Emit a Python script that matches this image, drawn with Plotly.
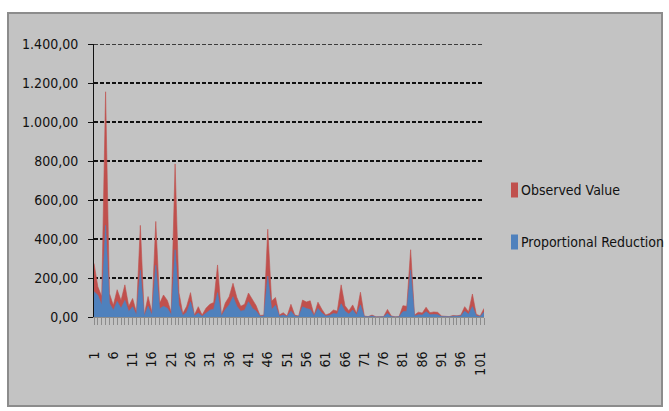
import plotly.graph_objects as go

# Category index along the x axis (1..102)
categories = list(range(1, 103))

observed_value = [
    275, 155, 105, 1155, 120, 60, 140, 85, 165, 55,
    95, 25, 470, 10, 105, 25, 490, 70, 113, 85,
    25, 785, 125, 18, 55, 125, 10, 53, 10, 45,
    65, 75, 267, 10, 72, 104, 173, 100, 55, 65,
    123, 87, 58, 8, 10, 450, 82, 100, 10, 22,
    5, 65, 10, 5, 87, 77, 83, 10, 76, 40,
    10, 18, 36, 30, 165, 58, 32, 62, 19, 127,
    5, 2, 10, 1, 1, 2, 39, 5, 1, 2,
    58, 55, 345, 10, 25, 20, 50, 22, 26, 24,
    5, 2, 2, 8, 6, 10, 53, 27, 118, 14,
    5, 44,
]

proportional_reduction = [
    130, 112, 60, 470, 70, 35, 80, 45, 85, 28,
    52, 10, 240, 5, 55, 10, 265, 42, 55, 45,
    12, 345, 60, 8, 25, 78, 5, 20, 4, 22,
    35, 40, 125, 5, 38, 62, 104, 55, 30, 35,
    78, 45, 30, 4, 5, 210, 38, 60, 4, 10,
    2, 30, 5, 2, 52, 44, 38, 5, 44, 20,
    5, 8, 18, 15, 68, 30, 15, 36, 10, 62,
    2, 1, 5, 0, 0, 1, 18, 2, 0, 1,
    27, 30, 240, 5, 12, 10, 27, 12, 13, 12,
    2, 1, 1, 4, 3, 5, 30, 14, 53, 7,
    2, 25,
]

series_names = ["Observed Value", "Proportional Reduction"]
series_colors = ["#C0504D", "#4F81BD"]

y_tick_values = [0, 200, 400, 600, 800, 1000, 1200, 1400]
y_tick_labels = ["0,00", "200,00", "400,00", "600,00", "800,00",
                 "1.000,00", "1.200,00", "1.400,00"]
x_tick_labels = [str(c) if (c - 1) % 5 == 0 else "" for c in categories]

FONT = "DejaVu Sans Condensed, Liberation Sans, sans-serif"
FS = 14
W, H = 669, 411
ML, MR, MT, MB = 94, 185, 44, 94
PW, PH = W - ML - MR, H - MT - MB
GRID_COLOR = "#111111"
GRID_DASH = "4px,2px"


def px_to_paper_x(px):
    return (px - ML) / PW


def px_to_paper_y(py):
    return (H - MB - py) / PH


fig = go.Figure()

for name, values, color in zip(series_names,
                               [observed_value, proportional_reduction],
                               series_colors):
    fig.add_trace(go.Scatter(
        x=categories, y=values, name=name, mode="lines",
        line=dict(color=color, width=0.6), fill="tozeroy",
        fillcolor=color, showlegend=False, hoverinfo="x+y+name",
    ))

# Chart-area panel with its border
shapes = [dict(
    type="rect", xref="paper", yref="paper", layer="below",
    x0=px_to_paper_x(8), x1=px_to_paper_x(662),
    y0=px_to_paper_y(406), y1=px_to_paper_y(13),
    fillcolor="#C3C3C3", line=dict(color="#8C8C8C", width=2),
)]

# Top gridline sits on the edge of the plot area, so draw it explicitly
shapes.append(dict(
    type="line", xref="paper", yref="y", layer="below",
    x0=0, x1=1, y0=y_tick_values[-1], y1=y_tick_values[-1],
    line=dict(color=GRID_COLOR, width=1.5, dash=GRID_DASH),
))

# Legend keys and labels drawn at the right of the plot
annotations = []
legend_rows_px = [190, 242]
for name, color, row in zip(series_names, series_colors, legend_rows_px):
    shapes.append(dict(
        type="rect", xref="paper", yref="paper", layer="above",
        x0=px_to_paper_x(511), x1=px_to_paper_x(518),
        y0=px_to_paper_y(row + 7.5), y1=px_to_paper_y(row - 7.5),
        fillcolor=color, line=dict(width=0),
    ))
    annotations.append(dict(
        xref="paper", yref="paper", x=px_to_paper_x(519), y=px_to_paper_y(row),
        xanchor="left", yanchor="middle", text=name, showarrow=False,
        font=dict(family=FONT, size=FS, color="#111111"),
    ))

fig.update_layout(
    width=W, height=H,
    margin=dict(l=ML, r=MR, t=MT, b=MB, pad=0),
    paper_bgcolor="white", plot_bgcolor="rgba(0,0,0,0)",
    shapes=shapes, annotations=annotations,
    font=dict(family=FONT, size=FS, color="#111111"),
    xaxis=dict(
        range=[1, 102], tickmode="array", tickvals=categories,
        ticktext=x_tick_labels, tickangle=-90, ticks="outside", ticklen=7,
        tickcolor="#8C8C8C", showline=True, linecolor="#8C8C8C",
        linewidth=1, showgrid=False, zeroline=False,
        ticklabelstandoff=21, tickfont=dict(size=FS),
    ),
    yaxis=dict(
        range=[0, 1400], tickmode="array", tickvals=y_tick_values,
        ticktext=y_tick_labels, ticks="outside", ticklen=5,
        tickcolor="#111111", showline=True, linecolor="#111111",
        linewidth=1, showgrid=True, gridcolor=GRID_COLOR, gridwidth=1.5,
        griddash=GRID_DASH, zeroline=False, ticklabelstandoff=7,
        tickfont=dict(size=FS),
    ),
)

fig.write_html("out.html")
